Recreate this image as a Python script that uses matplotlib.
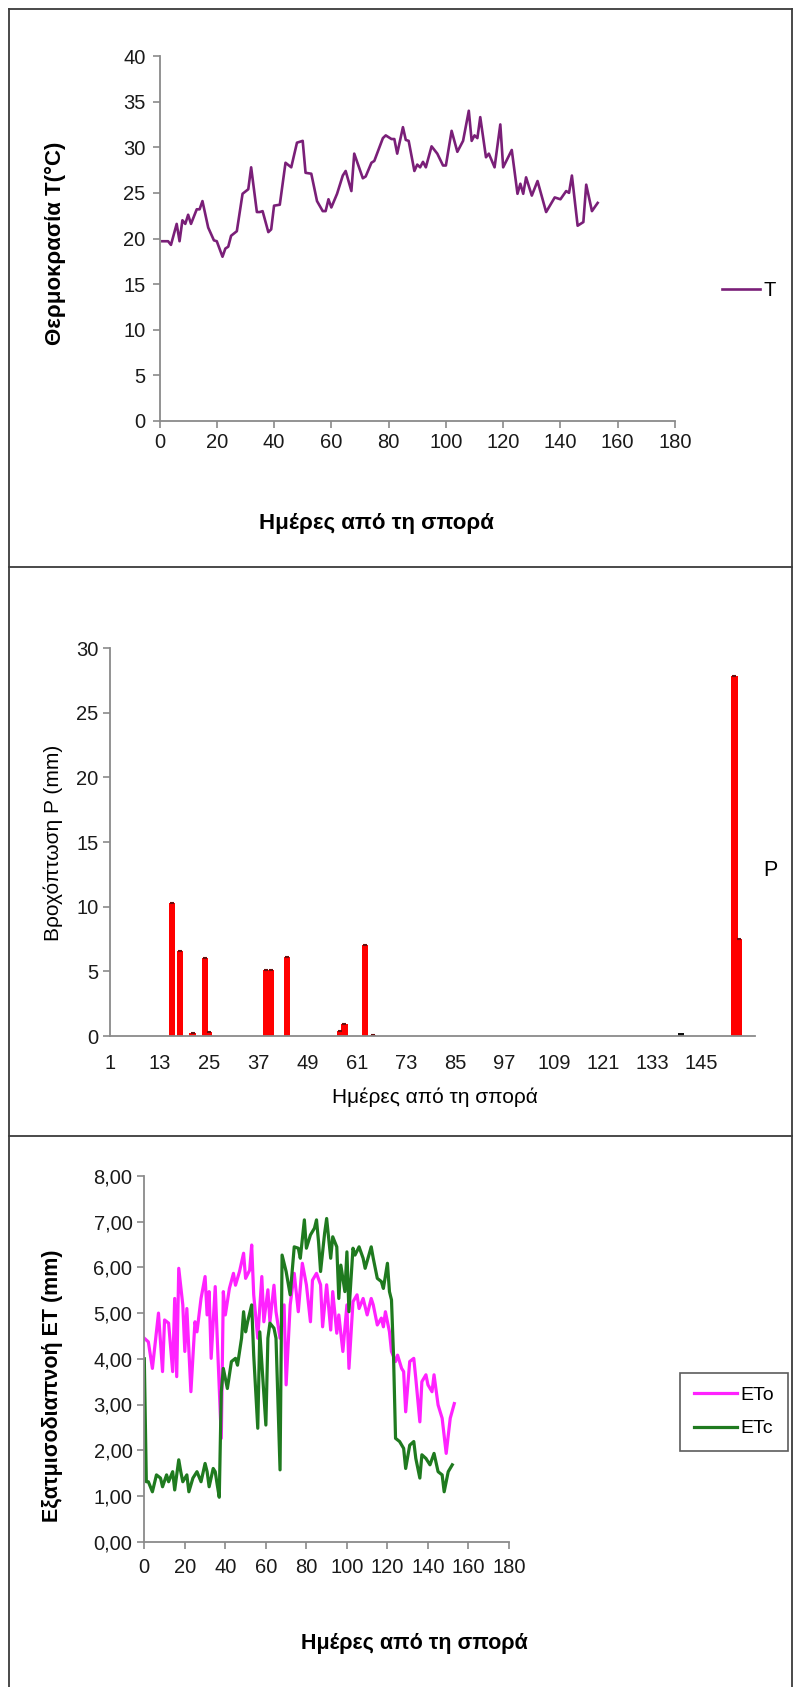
import matplotlib
matplotlib.use("Agg")
import matplotlib.pyplot as plt
from matplotlib.lines import Line2D
from matplotlib.ticker import FuncFormatter

plt.rcParams["font.family"] = ["Liberation Sans", "DejaVu Sans"]

W, H = 794, 1687

# --- panel 1: air temperature ---
t_days = [1, 3, 4, 6, 7, 8, 9, 10, 11, 13, 14, 15, 17, 19, 20, 22, 23, 24, 25, 27,
          29, 31, 32, 34, 35, 36, 38, 39, 40, 42, 44, 46, 48, 50, 51, 53, 55, 57, 58, 59,
          60, 62, 64, 65, 67, 68, 71, 72, 74, 75, 78, 79, 81, 82, 83, 85, 86, 87, 89, 90,
          91, 92, 93, 95, 97, 99, 100, 102, 104, 106, 108, 109, 110, 111, 112, 114, 115, 117, 119, 120,
          123, 125, 126, 127, 128, 130, 132, 135, 138, 140, 142, 143, 144, 146, 148, 149, 151, 153]
t_vals = [19.7, 19.7, 19.3, 21.6, 19.7, 22.0, 21.6, 22.6, 21.6, 23.2, 23.2, 24.1, 21.2, 19.8, 19.7, 18.0, 18.9, 19.1, 20.3, 20.8,
          24.9, 25.4, 27.8, 22.9, 22.9, 23.0, 20.7, 21.0, 23.6, 23.7, 28.3, 27.8, 30.5, 30.7, 27.2, 27.1, 24.1, 23.0, 23.0, 24.3,
          23.4, 24.9, 26.9, 27.4, 25.2, 29.3, 26.6, 26.8, 28.3, 28.5, 31.0, 31.3, 30.9, 30.9, 29.3, 32.2, 30.8, 30.7, 27.4, 28.1,
          27.8, 28.4, 27.8, 30.1, 29.3, 28.0, 28.0, 31.8, 29.5, 30.7, 34.0, 30.7, 31.3, 31.0, 33.3, 28.9, 29.3, 27.8, 32.5, 27.8,
          29.7, 24.9, 26.0, 24.9, 26.7, 24.7, 26.3, 22.9, 24.5, 24.3, 25.2, 25.0, 26.9, 21.4, 21.8, 25.9, 23.0, 23.9]

# --- panel 2: rainfall ---
p_days = [16, 18, 21, 24, 25, 39, 40, 44, 57, 58, 63, 65, 153, 154]
p_vals = [10.3, 6.6, 0.2, 6.0, 0.3, 5.1, 5.1, 6.1, 0.4, 0.9, 7.0, 0.1, 27.8, 7.5]
p_dark_days = [140]
p_dark_vals = [0.25]
p_ticks = list(range(1, 146, 12))

# --- panel 3: evapotranspiration ---
eto_days = [0, 2, 4, 7, 9, 10, 12, 14, 15, 16, 17, 19, 20, 21, 23, 25, 26, 28, 30, 31,
            32, 33, 35, 36, 38, 39, 40, 42, 44, 45, 47, 49, 50, 52, 53, 54, 56, 58, 59, 61,
            62, 64, 65, 67, 69, 70, 72, 74, 76, 78, 80, 82, 83, 85, 87, 88, 90, 92, 93, 95,
            96, 98, 100, 101, 103, 105, 106, 108, 110, 112, 113, 115, 117, 118, 119, 121, 122, 124, 125, 127,
            128, 129, 131, 133, 134, 136, 137, 139, 140, 142, 143, 145, 147, 149, 151, 153]
eto_vals = [4.45, 4.37, 3.79, 5.00, 3.72, 4.85, 4.78, 3.72, 5.32, 3.61, 5.98, 5.18, 4.16, 5.10, 3.28, 4.81, 4.59, 5.32, 5.80, 4.96,
            5.47, 4.01, 5.58, 4.45, 2.26, 5.47, 4.96, 5.54, 5.87, 5.61, 5.91, 6.31, 5.76, 5.94, 6.49, 5.40, 4.45, 5.80, 4.81, 5.51,
            4.81, 5.61, 5.03, 4.45, 5.18, 3.43, 5.18, 5.87, 5.03, 6.09, 5.62, 4.81, 5.72, 5.87, 5.62, 4.70, 5.62, 4.63, 5.47, 4.56,
            4.96, 4.16, 5.18, 3.79, 5.25, 5.40, 5.10, 5.32, 4.96, 5.32, 5.18, 4.74, 4.89, 4.70, 5.03, 4.59, 4.16, 3.94, 4.08, 3.79,
            3.72, 2.84, 3.94, 4.01, 3.57, 2.62, 3.50, 3.65, 3.43, 3.28, 3.65, 2.99, 2.70, 1.93, 2.70, 3.02]
etc_days = [0, 1, 2, 4, 6, 8, 9, 11, 12, 14, 15, 17, 18, 19, 21, 22, 24, 26, 28, 30,
            31, 32, 34, 35, 36, 37, 38, 39, 41, 43, 45, 46, 48, 49, 50, 51, 53, 54, 56, 57,
            60, 61, 62, 64, 65, 67, 68, 70, 72, 74, 76, 77, 79, 80, 82, 84, 85, 86, 87, 89,
            90, 92, 93, 95, 96, 97, 99, 100, 101, 103, 104, 106, 108, 109, 112, 113, 115, 117, 118, 120,
            121, 122, 123, 124, 126, 128, 129, 131, 133, 134, 136, 137, 139, 141, 143, 145, 147, 148, 150, 152]
etc_vals = [4.00, 1.31, 1.31, 1.09, 1.46, 1.39, 1.20, 1.46, 1.31, 1.53, 1.13, 1.79, 1.53, 1.31, 1.46, 1.09, 1.39, 1.53, 1.31, 1.71,
            1.53, 1.20, 1.60, 1.53, 1.24, 0.97, 3.28, 3.79, 3.35, 3.94, 4.01, 3.86, 4.45, 5.03, 4.59, 4.81, 5.18, 4.08, 2.48, 4.59,
            2.55, 4.45, 4.78, 4.67, 4.45, 1.57, 6.27, 5.91, 5.40, 6.45, 6.42, 6.20, 7.04, 6.42, 6.71, 6.86, 7.04, 6.56, 5.91, 6.75,
            7.07, 6.20, 6.67, 6.45, 5.32, 6.05, 5.47, 6.34, 5.03, 6.42, 6.27, 6.45, 6.20, 5.98, 6.45, 6.20, 5.76, 5.69, 5.54, 6.09,
            5.47, 5.29, 4.08, 2.26, 2.19, 2.04, 1.60, 2.11, 2.19, 1.82, 1.39, 1.90, 1.82, 1.68, 1.93, 1.53, 1.46, 1.09, 1.53, 1.68]

XLABEL = "Ημέρες από τη σπορά"
AXIS_GREY = "#8a8a8a"
TICK_FS = 14.5


def fx(px):
    return px / W


def fy(py):
    return 1 - py / H


def add_axes(fig, left, top, right, bottom):
    return fig.add_axes([fx(left), fy(bottom), fx(right) - fx(left), fy(top) - fy(bottom)])


def style(ax):
    for s in ("top", "right"):
        ax.spines[s].set_visible(False)
    for s in ("left", "bottom"):
        ax.spines[s].set_color(AXIS_GREY)
        ax.spines[s].set_linewidth(1.3)
    ax.tick_params(colors=AXIS_GREY, labelcolor="#1a1a1a", labelsize=TICK_FS,
                   width=1.2, length=5, direction="out")


fig = plt.figure(figsize=(W / 100, H / 100), dpi=100)

# frame of the whole picture and panel separators
for seg in [((9, 9), (9, H)), ((9, 792), (9, 9)), ((792, 792), (9, H)),
            ((9, 792), (567, 567)), ((9, 792), (1136, 1136))]:
    xs, ys = seg
    fig.add_artist(Line2D([fx(xs[0]), fx(xs[1])], [fy(ys[0]), fy(ys[1])],
                          color="#3c3c3c", lw=1.3))

# panel 1
ax1 = add_axes(fig, 159.5, 56, 675, 421)
ax1.plot(t_days, t_vals, color="#7a1f78", lw=1.9, label="T")
ax1.set_xlim(0, 180)
ax1.set_ylim(0, 40)
ax1.set_xticks(range(0, 181, 20))
ax1.set_yticks(range(0, 41, 5))
style(ax1)
ax1.tick_params(axis="y", pad=5)
fig.text(fx(376), fy(524), XLABEL, ha="center", va="center", fontsize=16, fontweight="bold")
fig.text(fx(55), fy(243), "Θερμοκρασία T(°C)", ha="center", va="center", rotation=90,
         fontsize=16, fontweight="bold")
ax1.legend(loc="center left", bbox_to_anchor=(fx(704), fy(291)), bbox_transform=fig.transFigure,
           frameon=False, fontsize=14.5, handlelength=1.9, handletextpad=0.15)

# panel 2
ax2 = add_axes(fig, 110.4, 648, 755, 1036)
ax2.bar(p_days, p_vals, width=1.5, color="#ff0000", label="P")
ax2.plot(p_days, p_vals, ls="none", marker="_", ms=3, mew=1.5, color="#6a1010")
ax2.bar(p_dark_days, p_dark_vals, width=1.6, color="#111111")
ax2.set_xlim(1, 158)
ax2.set_ylim(0, 30)
ax2.set_xticks(p_ticks)
ax2.set_yticks(range(0, 31, 5))
style(ax2)
ax2.tick_params(axis="x", length=0, pad=13)
fig.text(fx(435), fy(1097), XLABEL, ha="center", va="center", fontsize=15)
fig.text(fx(53), fy(843), "Βροχόπτωση P (mm)", ha="center", va="center", rotation=90, fontsize=15)
fig.text(fx(770), fy(870), "P", ha="center", va="center", fontsize=15.5)

# panel 3
ax3 = add_axes(fig, 144.3, 1176, 509, 1541.6)
ax3.plot(eto_days, eto_vals, color="#ff22ff", lw=2.3, label="ETo")
ax3.plot(etc_days, etc_vals, color="#1f7a1f", lw=2.3, label="ETc")
ax3.set_xlim(0, 180)
ax3.set_ylim(0, 8)
ax3.set_xticks(range(0, 181, 20))
ax3.set_yticks(range(0, 9))
ax3.yaxis.set_major_formatter(FuncFormatter(lambda v, _: f"{v:.2f}".replace(".", ",")))
style(ax3)
ax3.tick_params(axis="x", pad=7)
fig.text(fx(414), fy(1643), XLABEL, ha="center", va="center", fontsize=15.5, fontweight="bold")
fig.text(fx(53), fy(1386), "Εξατμισοδιαπνοή ET (mm)", ha="center", va="center", rotation=90,
         fontsize=15.5, fontweight="bold")
leg = ax3.legend(loc="center", bbox_to_anchor=(fx(734), fy(1412)), bbox_transform=fig.transFigure,
                 fontsize=14, handlelength=2.2, handletextpad=0.2, fancybox=False,
                 borderpad=0.7, labelspacing=0.8)
leg.get_frame().set_edgecolor("#333333")
leg.get_frame().set_linewidth(1.2)

fig.savefig("out.png", dpi=100)
